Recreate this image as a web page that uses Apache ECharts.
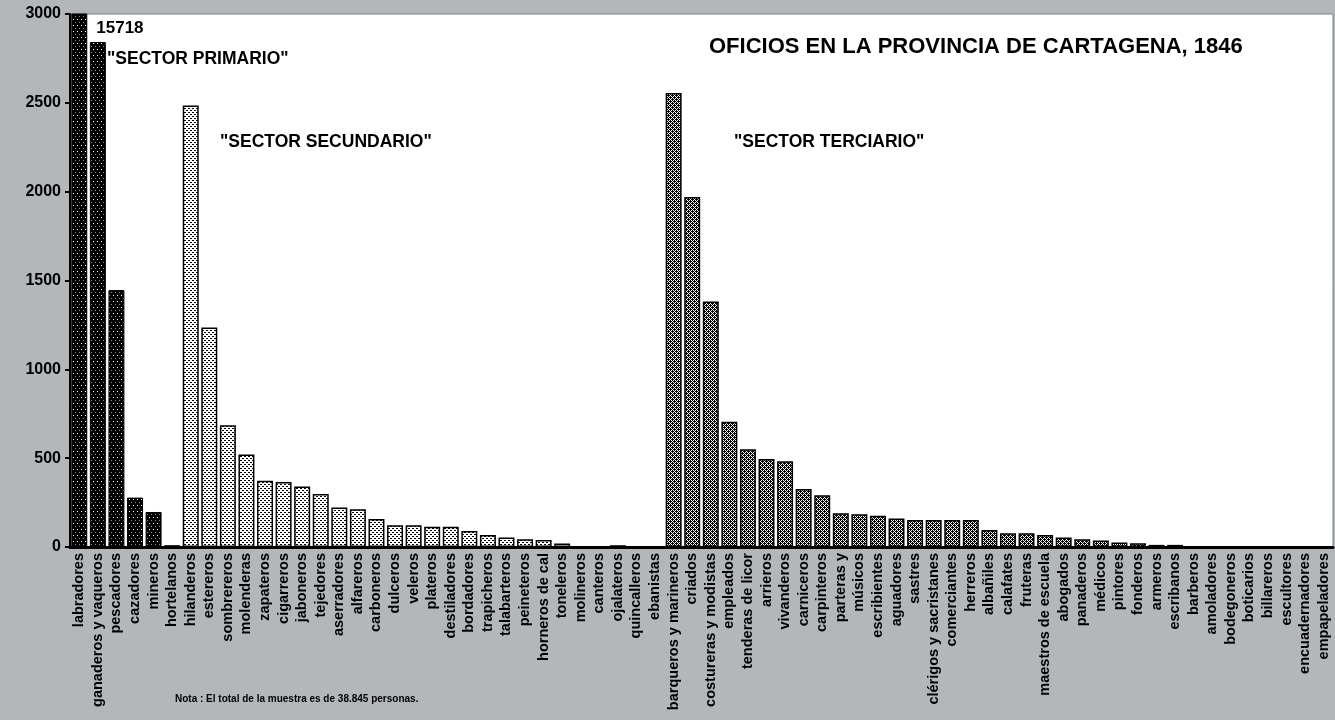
<!DOCTYPE html>
<html>
<head>
<meta charset="utf-8">
<script src="https://cdn.jsdelivr.net/npm/echarts@6/dist/echarts.min.js"></script>
<style>
  html, body { margin: 0; padding: 0; background: #b4b7b9; }
  #chart { width: 1335px; height: 720px; }
</style>
</head>
<body>
<div id="chart"></div>
<script>
// Oficios en la provincia de Cartagena, 1846 — número de personas por oficio
const primaryCats = ['labradores', 'ganaderos y vaqueros', 'pescadores', 'cazadores', 'mineros', 'hortelanos'];
const primaryVals = [15718, 2842, 1446, 278, 197, 10];

const secondaryCats = ['hilanderos', 'estereros', 'sombrereros', 'molenderas', 'zapateros', 'cigarreros',
  'jaboneros', 'tejedores', 'aserradores', 'alfareros', 'carboneros', 'dulceros', 'veleros', 'plateros',
  'destiladores', 'bordadores', 'trapicheros', 'talabarteros', 'peineteros', 'horneros de cal', 'toneleros',
  'molineros', 'canteros', 'ojalateros', 'quincalleros', 'ebanistas'];
const secondaryVals = [2485, 1235, 685, 521, 373, 366, 340, 298, 223, 212, 158, 122, 122, 114,
  114, 90, 67, 54, 43, 40, 20, 1, 4, 10, 1, 1];

const tertiaryCats = ['barqueros y marineros', 'criados', 'costureras y modistas', 'empleados',
  'tenderas de licor', 'arrieros', 'vivanderos', 'carniceros', 'carpinteros', 'parteras y', 'músicos',
  'escribientes', 'aguadores', 'sastres', 'clérigos y sacristanes', 'comerciantes', 'herreros', 'albañiles',
  'calafates', 'fruteras', 'maestros de escuela', 'abogados', 'panaderos', 'médicos', 'pintores', 'fonderos',
  'armeros', 'escribanos', 'barberos', 'amoladores', 'bodegoneros', 'boticarios', 'billareros', 'escultores',
  'encuadernadores', 'empapeladores'];
const tertiaryVals = [2555, 1970, 1382, 705, 550, 495, 482, 326, 291, 190, 184, 176, 161, 152, 152, 152,
  152, 96, 77, 77, 67, 54, 43, 36, 26, 21, 12, 12, 4, 3, 3, 3, 3, 2, 1, 1];

const yTicks = { min: 0, max: 3000, interval: 500 };

// Small pixel tiles used as bar fills (rows of '#' = dark, '.' = light, 'g' = grey)
function tile(rows, dark, light) {
  const c = document.createElement('canvas');
  c.width = rows[0].length; c.height = rows.length;
  const ctx = c.getContext('2d');
  for (let y = 0; y < rows.length; y++) {
    for (let x = 0; x < rows[y].length; x++) {
      const ch = rows[y][x];
      ctx.fillStyle = ch === '#' ? dark : ch === 'g' ? '#8c8c8c' : light;
      ctx.fillRect(x, y, 1, 1);
    }
  }
  return { image: c, repeat: 'repeat' };
}

const fillPrimary = tile(['####', '#.##', '####', '####', '###g', '####'], '#000', '#fff');
const fillSecondary = tile(['##..', '....', '..##', '....'], '#000', '#fff');
const fillTertiary = tile(['#.#.', '.###', '#.#.', '##.#'], '#000', '#fff');

const categories = primaryCats.concat(secondaryCats, tertiaryCats);

const FONT = 'Liberation Sans, Arial, sans-serif';

const barData = [];
primaryVals.forEach((v, i) => {
  const item = { value: v, itemStyle: { color: fillPrimary, borderColor: '#000', borderWidth: 1 } };
  if (i === 0) {
    // value of the bar that runs off the scale, written beside it
    item.label = {
      show: true, position: ['100%', 0], offset: [9, 15], align: 'left', verticalAlign: 'middle',
      formatter: '{c}', color: '#000', fontWeight: 'bold', fontSize: 17, fontFamily: FONT
    };
  }
  barData.push(item);
});
secondaryVals.forEach(v => barData.push({ value: v, itemStyle: { color: fillSecondary, borderColor: '#000', borderWidth: 1.5 } }));
tertiaryVals.forEach(v => barData.push({ value: v, itemStyle: { color: fillTertiary, borderColor: '#000', borderWidth: 1.5 } }));

const chart = echarts.init(document.getElementById('chart'), null, { renderer: 'canvas' });

const textStyle = (size) => ({ fill: '#000', font: 'bold ' + size + 'px ' + FONT });

chart.setOption({
  backgroundColor: '#b4b7b9',
  animation: false,
  grid: {
    left: 70, right: 2, top: 14, bottom: 173,
    show: true, backgroundColor: '#ffffff', borderColor: '#7f7f7f', borderWidth: 1
  },
  xAxis: {
    type: 'category',
    data: categories,
    axisLine: { show: true, lineStyle: { color: '#000', width: 3 } },
    axisTick: { show: false },
    axisLabel: {
      interval: 0, rotate: 90, margin: 6, color: '#000',
      fontWeight: 'bold', fontSize: 14.5, fontFamily: FONT
    }
  },
  yAxis: {
    type: 'value',
    min: yTicks.min, max: yTicks.max, interval: yTicks.interval,
    axisLine: { show: true, lineStyle: { color: '#000', width: 2 } },
    axisTick: { show: true, inside: false, length: 5, lineStyle: { color: '#000', width: 2 } },
    splitLine: { show: false },
    axisLabel: {
      margin: 9, color: '#000', fontWeight: 'bold', fontSize: 16, fontFamily: FONT,
      formatter: v => String(v)
    }
  },
  series: [{
    type: 'bar',
    data: barData,
    barWidth: '86%',
    clip: true
  }],
  graphic: [
    { type: 'text', left: 709, top: 36, style: Object.assign({ text: 'OFICIOS EN LA PROVINCIA DE CARTAGENA, 1846' }, textStyle(22)) },
    { type: 'text', left: 107, top: 50, style: Object.assign({ text: '"SECTOR PRIMARIO"' }, textStyle(17.5)) },
    { type: 'text', left: 220, top: 133, style: Object.assign({ text: '"SECTOR SECUNDARIO"' }, textStyle(17.5)) },
    { type: 'text', left: 734, top: 133, style: Object.assign({ text: '"SECTOR TERCIARIO"' }, textStyle(17.5)) },
    { type: 'text', left: 175, top: 694, style: Object.assign({ text: 'Nota : El total de la muestra es de 38.845 personas.' }, textStyle(10)) }
  ]
});
</script>
</body>
</html>
